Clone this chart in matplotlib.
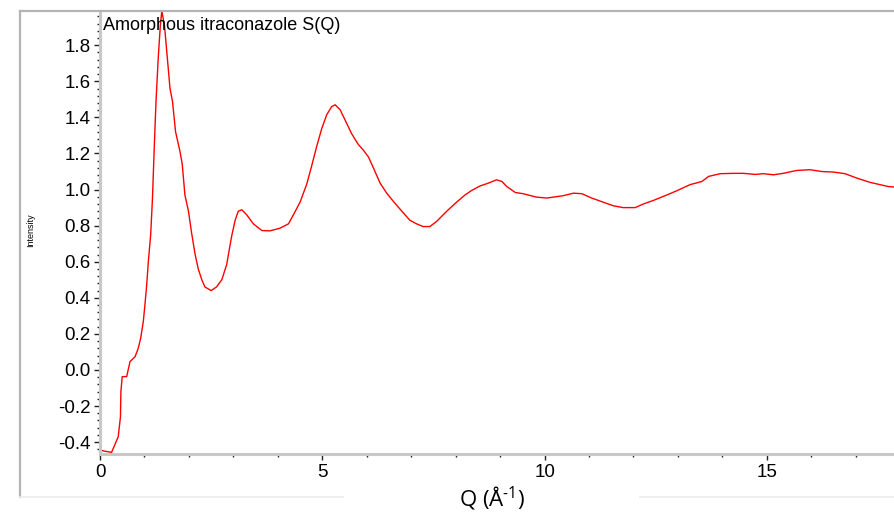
import matplotlib
matplotlib.use("Agg")
import matplotlib.pyplot as plt
from matplotlib.lines import Line2D
from matplotlib.ticker import MultipleLocator, FormatStrFormatter

# S(Q) of amorphous itraconazole
q = [0.00, 0.10, 0.26, 0.41, 0.46, 0.47, 0.50, 0.60, 0.675, 0.79, 0.86, 0.915,
     0.975, 1.01, 1.05, 1.087, 1.14, 1.18, 1.22, 1.26, 1.31, 1.357, 1.39, 1.45,
     1.50, 1.575, 1.63, 1.70, 1.80, 1.85, 1.91, 1.99, 2.06, 2.14, 2.21, 2.29,
     2.36, 2.50, 2.62, 2.74, 2.85, 2.96, 3.04, 3.11, 3.19, 3.30, 3.45, 3.64,
     3.82, 4.05, 4.24, 4.35, 4.50, 4.65, 4.76, 4.875, 4.99, 5.10, 5.21, 5.29,
     5.40, 5.51, 5.66, 5.81, 5.92, 6.04, 6.15, 6.30, 6.45, 6.60, 6.79, 6.97,
     7.12, 7.27, 7.42, 7.57, 7.80, 8.02, 8.21, 8.36, 8.55, 8.74, 8.92, 9.04,
     9.15, 9.34, 9.52, 9.82, 10.05, 10.42, 10.65, 10.84, 11.06, 11.32, 11.55,
     11.77, 12.04, 12.22, 12.45, 12.75, 12.97, 13.27, 13.54, 13.69, 13.95,
     14.25, 14.47, 14.74, 14.92, 15.15, 15.37, 15.67, 15.97, 16.24, 16.50,
     16.76, 17.02, 17.32, 17.55, 17.73, 17.86]
s = [-0.444, -0.450, -0.457, -0.37, -0.26, -0.12, -0.037, -0.037, 0.046, 0.074,
     0.12, 0.176, 0.27, 0.36, 0.47, 0.60, 0.75, 0.95, 1.23, 1.49, 1.73, 1.91,
     1.99, 1.91, 1.77, 1.56, 1.49, 1.32, 1.21, 1.14, 0.97, 0.88, 0.76, 0.64,
     0.56, 0.50, 0.46, 0.44, 0.46, 0.50, 0.585, 0.74, 0.83, 0.88, 0.888, 0.86,
     0.81, 0.773, 0.771, 0.786, 0.81, 0.86, 0.93, 1.03, 1.13, 1.24, 1.34,
     1.415, 1.46, 1.47, 1.443, 1.387, 1.31, 1.25, 1.22, 1.18, 1.12, 1.036,
     0.98, 0.934, 0.88, 0.83, 0.81, 0.795, 0.795, 0.823, 0.88, 0.93, 0.97,
     0.995, 1.02, 1.036, 1.054, 1.045, 1.017, 0.984, 0.977, 0.958, 0.953,
     0.966, 0.98, 0.977, 0.953, 0.93, 0.91, 0.90, 0.90, 0.92, 0.94, 0.97,
     0.993, 1.027, 1.045, 1.073, 1.088, 1.09, 1.09, 1.084, 1.088, 1.082, 1.09,
     1.106, 1.11, 1.10, 1.097, 1.088, 1.064, 1.04, 1.027, 1.017, 1.014]

title = "Amorphous itraconazole S(Q)"

plt.rcParams["font.family"] = ["Liberation Sans", "DejaVu Sans"]
plt.rcParams["axes.unicode_minus"] = False
plt.rcParams["mathtext.fontset"] = "custom"
plt.rcParams["mathtext.rm"] = "Open Sans"

fig = plt.figure(figsize=(8.94, 5.12), dpi=100)
ax = fig.add_axes([100 / 894, 58 / 512, 794 / 894, 443 / 512])

ax.plot(q, s, color="#ff0000", linewidth=1.0)

ax.set_xlim(0, 17.86)
ax.set_ylim(-0.466, 1.99)

ax.xaxis.set_major_locator(MultipleLocator(5))
ax.xaxis.set_minor_locator(MultipleLocator(1))
ax.yaxis.set_major_locator(MultipleLocator(0.2))
ax.yaxis.set_minor_locator(MultipleLocator(0.04))
ax.yaxis.set_major_formatter(FormatStrFormatter("%.1f"))

for side in ["top", "right"]:
    ax.spines[side].set_visible(False)
for side in ["left", "bottom"]:
    ax.spines[side].set_color("#c8c8c8")
    ax.spines[side].set_linewidth(2.2)

ax.tick_params(which="major", direction="out", length=4, width=1,
               color="#222222", labelsize=13.5, pad=3)
ax.tick_params(which="minor", direction="out", length=2.5, width=1,
               color="#222222")

# title sits inside the plot, top left
fig.text(103 / 894, 1 - 17 / 512, title, fontsize=13, ha="left", va="top")

# small rotated y label far to the left
fig.text(31 / 894, 1 - 230 / 512, "Intensity", fontsize=6.5, rotation=90,
         ha="center", va="center")

# x label in a different (Calibri-like) font, hyphen in the superscript
fig.text(492 / 894, 1 - 506 / 512, r"Q (Å$^{\text{-1}}$)", fontsize=16,
         family="Open Sans", ha="center", va="baseline")

# grey outer frame around the chart area
frame = [
    ((20, 20), (11, 497), "#b4b4b4", 1.6),
    ((20, 894), (11, 11), "#b4b4b4", 1.6),
    ((20, 343), (497, 497), "#ececec", 1.2),
    ((640, 894), (497, 497), "#ececec", 1.2),
]
for xs, ys, col, lw in frame:
    fig.add_artist(Line2D([x / 894 for x in xs], [1 - y / 512 for y in ys],
                          color=col, linewidth=lw))

fig.savefig("out.png", dpi=100)
